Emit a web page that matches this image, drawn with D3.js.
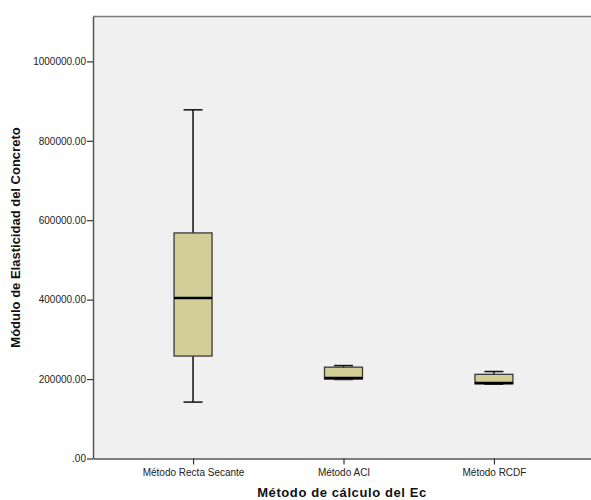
<!DOCTYPE html>
<html>
<head>
<meta charset="utf-8">
<script src="https://cdn.jsdelivr.net/npm/d3@7"></script>
<style>
  body { margin: 0; background: #fff; }
  text { font-family: "Liberation Sans", Arial, sans-serif; }
</style>
</head>
<body>
<div id="chart"></div>
<script>
// data
var categories = ["Método Recta Secante", "Método ACI", "Método RCDF"];
var whiskerHigh = [878000, 234000, 219000];
var q3 = [568000, 230000, 212000];
var median = [404000, 203000, 190000];
var q1 = [258000, 200000, 188000];
var whiskerLow = [142000, 199000, 187000];
var yTicks = [0, 200000, 400000, 600000, 800000, 1000000];

var width = 591, height = 500;
var plotLeft = 93, plotTop = 16.5, plotBottom = 458.5, plotRight = 594;

var svg = d3.select('#chart').append('svg')
  .attr('width', width)
  .attr('height', height);

var x = d3.scalePoint().domain(categories).range([plotLeft, plotRight]).padding(0.665);
var y = d3.scaleLinear().domain([0, 1113000]).range([plotBottom, plotTop]);

// plot background
svg.append('rect')
  .attr('x', plotLeft).attr('y', plotTop)
  .attr('width', plotRight - plotLeft).attr('height', plotBottom - plotTop)
  .attr('fill', '#f0f0f0');

// top border
svg.append('line')
  .attr('x1', plotLeft).attr('x2', plotRight)
  .attr('y1', plotTop).attr('y2', plotTop)
  .attr('stroke', '#7a7a7a').attr('stroke-width', 1.5);

var yAxis = svg.append('g')
  .attr('transform', 'translate(' + plotLeft + ',0)')
  .call(d3.axisLeft(y).tickValues(yTicks).tickSize(6).tickSizeOuter(0)
    .tickFormat(d => d === 0 ? '.00' : d3.format('.2f')(d)));
yAxis.select('.domain').attr('stroke', '#555').attr('stroke-width', 1.5);
yAxis.selectAll('.tick line').attr('stroke', '#333').attr('stroke-width', 1.2);
yAxis.selectAll('.tick text').attr('font-size', 10).attr('fill', '#222')
  .attr('font-family', '"Liberation Sans", Arial, sans-serif').attr('x', -7);

var xAxis = svg.append('g')
  .attr('transform', 'translate(0,' + plotBottom + ')')
  .call(d3.axisBottom(x).tickSize(6).tickSizeOuter(0));
xAxis.select('.domain').attr('stroke', '#555').attr('stroke-width', 1.5);
xAxis.selectAll('.tick line').attr('stroke', '#333').attr('stroke-width', 1.2);
xAxis.selectAll('.tick text').attr('font-size', 10).attr('fill', '#222')
  .attr('font-family', '"Liberation Sans", Arial, sans-serif').attr('y', 10);

var boxW = 38, capW = 19;
var boxes = svg.append('g').selectAll('g')
  .data(categories)
  .enter().append('g');

// whiskers
boxes.append('line')
  .attr('x1', (d) => x(d)).attr('x2', (d) => x(d))
  .attr('y1', (d, i) => y(whiskerHigh[i])).attr('y2', (d, i) => y(whiskerLow[i]))
  .attr('stroke', '#111').attr('stroke-width', 1.5);
boxes.append('line')
  .attr('x1', (d) => x(d) - capW / 2).attr('x2', (d) => x(d) + capW / 2)
  .attr('y1', (d, i) => y(whiskerHigh[i])).attr('y2', (d, i) => y(whiskerHigh[i]))
  .attr('stroke', '#111').attr('stroke-width', 1.5);
boxes.append('line')
  .attr('x1', (d) => x(d) - capW / 2).attr('x2', (d) => x(d) + capW / 2)
  .attr('y1', (d, i) => y(whiskerLow[i])).attr('y2', (d, i) => y(whiskerLow[i]))
  .attr('stroke', '#111').attr('stroke-width', 1.5);

// box
boxes.append('rect')
  .attr('x', (d) => x(d) - boxW / 2)
  .attr('y', (d, i) => y(q3[i]))
  .attr('width', boxW)
  .attr('height', (d, i) => y(q1[i]) - y(q3[i]))
  .attr('fill', '#d3ce97')
  .attr('stroke', '#3a3a3a').attr('stroke-width', 1.3);

// median
boxes.append('line')
  .attr('x1', (d) => x(d) - boxW / 2).attr('x2', (d) => x(d) + boxW / 2)
  .attr('y1', (d, i) => y(median[i])).attr('y2', (d, i) => y(median[i]))
  .attr('stroke', '#000').attr('stroke-width', 2.5);

// axis titles
svg.append('text')
  .attr('x', 342).attr('y', 497)
  .attr('text-anchor', 'middle')
  .attr('font-size', 13).attr('font-weight', 'bold').attr('fill', '#111')
  .attr('letter-spacing', 0.6)
  .text('Método de cálculo del Ec');

svg.append('text')
  .attr('transform', 'translate(19.5,237.5) rotate(-90)')
  .attr('text-anchor', 'middle')
  .attr('font-size', 13).attr('font-weight', 'bold').attr('fill', '#111')
  .text('Módulo de Elasticidad del Concreto');
</script>
</body>
</html>
